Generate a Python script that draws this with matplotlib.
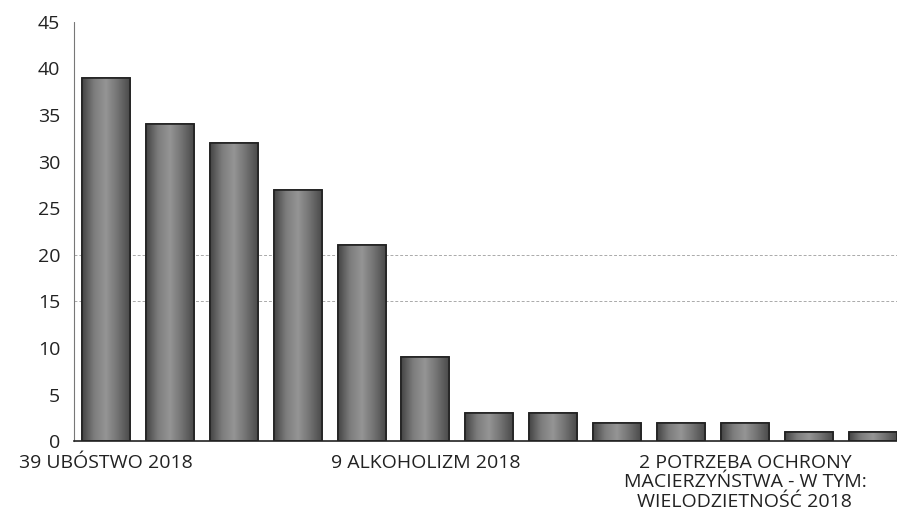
import numpy as np
import matplotlib.pyplot as plt
from matplotlib.colors import LinearSegmentedColormap

plt.rcParams['font.family'] = ['Open Sans', 'DejaVu Sans']

# dane: liczba rodzin wg powodu przyznania pomocy (2018)
wartosci = [39, 34, 32, 27, 21, 9, 3, 3, 2, 2, 2, 1, 1]
etykiety = ["39 UBÓSTWO 2018", "", "", "", "",
            "9 ALKOHOLIZM 2018", "", "", "", "",
            "2 POTRZEBA OCHRONY\nMACIERZYŃSTWA - W TYM:\nWIELODZIETNOŚĆ 2018", "", ""]
y_ticks = [0, 5, 10, 15, 20, 25, 30, 35, 40, 45]

fig = plt.figure(figsize=(8.97, 5.19), dpi=100)
ax = fig.add_axes([0.0825, 0.15, 0.9175, 0.808])

x = np.arange(len(wartosci))
bars = ax.bar(x, wartosci, width=0.75, color='#6a6a6a',
              edgecolor='#222222', linewidth=1.2, zorder=3)

# gradient w słupkach (ciemne brzegi, jaśniejszy środek)
cmap = LinearSegmentedColormap.from_list('szary', ['#444444', '#7c7c7c', '#959595', '#727272', '#4a4a4a'])
grad = np.linspace(0, 1, 256).reshape(1, -1)
for b in bars:
    im = ax.imshow(grad, cmap=cmap, aspect='auto', zorder=3.5,
                   extent=[b.get_x(), b.get_x() + b.get_width(), 0, b.get_height()])
    im.set_clip_path(b)
    # obrys na wierzchu
    ax.bar(b.get_x() + b.get_width() / 2, b.get_height(), width=b.get_width(),
           fill=False, edgecolor='#222222', linewidth=1.2, zorder=4)

# słabe linie siatki (widoczne tylko 15 i 20)
for yy in [15, 20]:
    ax.axhline(yy, color='#aaaaaa', linestyle=(0, (3, 2)), linewidth=0.7, zorder=1)

ax.set_xlim(-0.5, 12.38)
ax.set_ylim(0, 45)
ax.set_yticks(y_ticks)
ax.set_xticks(x)
ax.set_xticklabels(etykiety, fontsize=14, color='#222222', linespacing=1.13)
ax.tick_params(axis='y', length=0, pad=10, labelsize=14, labelcolor='#222222')
ax.tick_params(axis='x', length=0, pad=9)

ax.spines['top'].set_visible(False)
ax.spines['right'].set_visible(False)
ax.spines['left'].set_linestyle((0, (1, 1)))
ax.spines['left'].set_color('#777777')
ax.spines['bottom'].set_color('#222222')
ax.spines['bottom'].set_linewidth(1.2)
ax.spines['bottom'].set_zorder(5)

fig.savefig('out.png', dpi=100)
